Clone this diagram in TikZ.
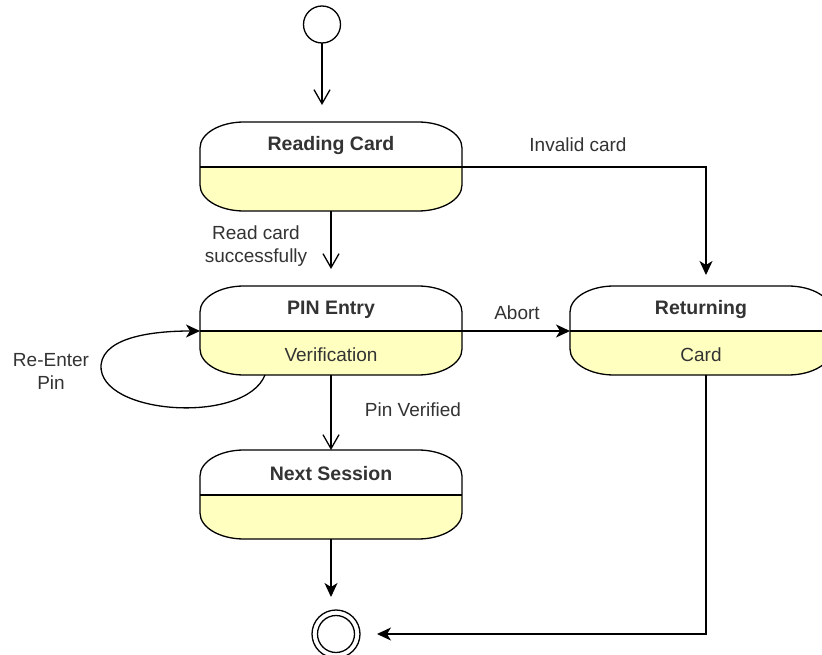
\documentclass[tikz,border=0pt]{standalone}
\usepackage{fontspec}
\setmainfont{Liberation Sans}
\usetikzlibrary{arrows.meta,calc}

\definecolor{stfill}{HTML}{FFFFC0}
\definecolor{txt}{HTML}{333333}

\tikzset{
  conn/.style={line width=1.3pt, draw=black},
  openhead/.style={-{Straight Barb[length=14pt,width=16pt]}},
  fillhead/.style={-{Stealth[length=14pt,width=13pt,inset=4pt]}},
  lbl/.style={text=txt, font=\fontsize{19}{23}\selectfont, align=center, inner sep=0pt},
  statetitle/.style={text=txt, font=\fontsize{19.5}{23}\selectfont\bfseries, inner sep=0pt},
  stateline/.style={line width=1.3pt, draw=black},
  statebox/.style={draw=none, minimum width=262pt, minimum height=89pt, inner sep=0pt, outer sep=0pt},
  pseudo/.style={circle, draw=black, line width=1.3pt, inner sep=0pt, outer sep=0pt}
}

% UML state with a title compartment and a yellow lower compartment
% #1 name, #2 centre x, #3 top y, #4 title, #5 lower text
\newcommand\umlstate[5]{%
  \pgfmathsetmacro\stL{#2-131}%
  \pgfmathsetmacro\stR{#2+131}%
  \pgfmathsetmacro\stB{#3+89}%
  \pgfmathsetmacro\stD{#3+45}%
  \fill[white] (\stL,\stD) -- (\stL,{#3+26})
    .. controls (\stL,{#3+11.6}) and ({\stL+19.7},#3) .. ({\stL+44},#3)
    -- ({\stR-44},#3)
    .. controls ({\stR-19.7},#3) and (\stR,{#3+11.6}) .. (\stR,{#3+26})
    -- (\stR,\stD) -- cycle;
  \fill[stfill] (\stL,\stD) -- (\stL,{\stB-26})
    .. controls (\stL,{\stB-11.6}) and ({\stL+19.7},\stB) .. ({\stL+44},\stB)
    -- ({\stR-44},\stB)
    .. controls ({\stR-19.7},\stB) and (\stR,{\stB-11.6}) .. (\stR,{\stB-26})
    -- (\stR,\stD) -- cycle;
  \draw[stateline] (\stL,{#3+26})
    .. controls (\stL,{#3+11.6}) and ({\stL+19.7},#3) .. ({\stL+44},#3)
    -- ({\stR-44},#3)
    .. controls ({\stR-19.7},#3) and (\stR,{#3+11.6}) .. (\stR,{#3+26})
    -- (\stR,{\stB-26})
    .. controls (\stR,{\stB-11.6}) and ({\stR-19.7},\stB) .. ({\stR-44},\stB)
    -- ({\stL+44},\stB)
    .. controls ({\stL+19.7},\stB) and (\stL,{\stB-11.6}) .. (\stL,{\stB-26})
    -- cycle;
  \draw[stateline] (\stL,\stD) -- (\stR,\stD);
  \node[statebox] (#1) at (#2,{#3+44.5}) {};
  \coordinate (#1-dl) at (\stL,\stD);
  \coordinate (#1-dr) at (\stR,\stD);
  \node[statetitle] (#1-title) at (#2,{#3+24}) {#4};
  \node[lbl] (#1-sub) at (#2,{#3+68.5}) {#5};
}

\begin{document}
\begin{tikzpicture}[x=1pt,y=-1pt]
  \useasboundingbox (0,0) rectangle (822,655);
  \clip (0,0) rectangle (822,655);
  \fill[white] (0,0) rectangle (822,655);

  % states
  \umlstate{rc}{331}{122}{Reading Card}{}
  \umlstate{pin}{331}{286}{PIN Entry}{Verification}
  \umlstate{ret}{701}{286}{Returning}{Card}
  \umlstate{ns}{331}{450}{Next Session}{}

  % pseudo states
  \node[pseudo, minimum size=37pt] (start) at (322,24.5) {};
  \node[pseudo, minimum size=48pt] (endc) at (336,634) {};
  \node[pseudo, minimum size=37pt] (endin) at (endc) {};

  % transitions
  \draw[conn, openhead, shorten >=17pt] (start.south) -- (start.south |- rc.north);
  \draw[conn, openhead, shorten >=17pt] (rc.south) -- (pin.north);
  \node[lbl] (lread) at (256,246) {Read card\\successfully};

  \draw[conn, fillhead, shorten >=11pt] (rc-dr) -| ($(ret.north)+(5,0)$);
  \node[lbl] (linvalid) at (578,145) {Invalid card};

  \draw[conn, fillhead] (pin-dr) -- (ret-dl);
  \node[lbl] (labort) at (517,313) {Abort};

  \draw[conn, fillhead] ($(pin.south west)+(65,0)$)
    .. controls (245,425) and (98,415) .. (101,365)
    .. controls (104,335) and (160,331) .. (pin-dl);
  \node[lbl] (lreenter) at (51,371) {Re-Enter\\Pin};

  \draw[conn, openhead] (pin.south) -- (ns.north);
  \node[lbl] (lverified) at (413,410) {Pin Verified};

  \draw[conn, fillhead, shorten >=13pt] (ns.south) -- (ns.south |- endc.north);
  \draw[conn, fillhead, shorten >=17pt] ($(ret.south)+(5,0)$) |- (endc.east);
\end{tikzpicture}
\end{document}
